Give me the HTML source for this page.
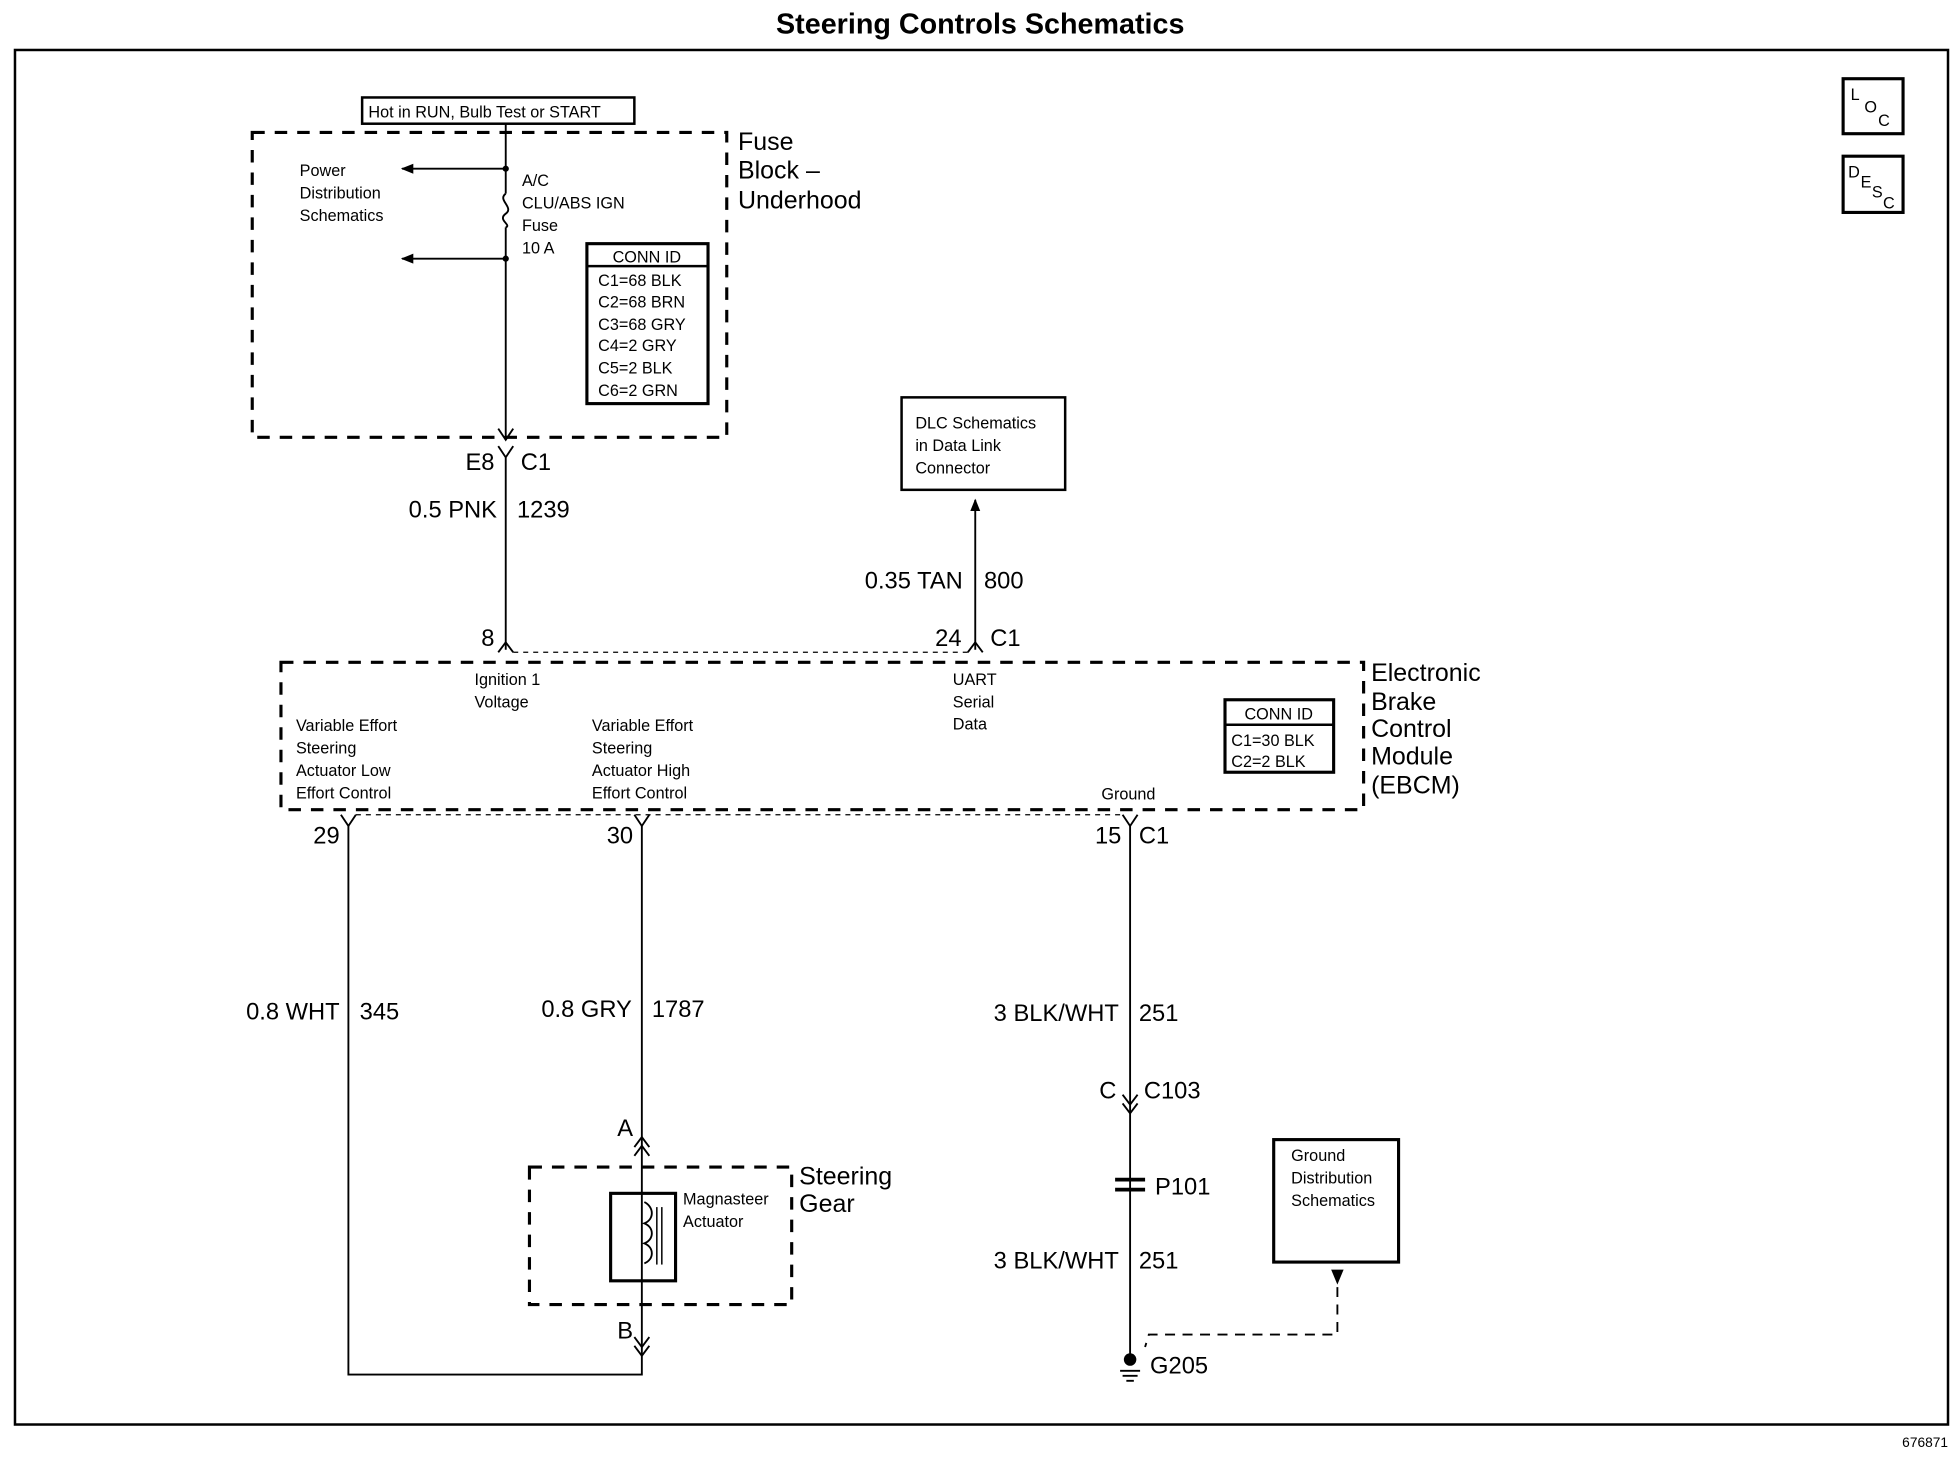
<!DOCTYPE html>
<html><head><meta charset="utf-8"><style>
html,body{margin:0;padding:0;background:#fff;}
svg{display:block;}
text{font-family:"Liberation Sans",Arial,sans-serif;fill:#000;}
.s{font-size:13px;}
.m{font-size:19px;}
.l{font-size:20px;}
</style></head><body>
<svg width="1958" height="1472" viewBox="0 0 1568 1178" preserveAspectRatio="none" xmlns="http://www.w3.org/2000/svg">
<defs>
<marker id="ah" markerWidth="10" markerHeight="10" refX="9" refY="5" orient="auto" markerUnits="userSpaceOnUse"><path d="M0,1 L10,5 L0,9 z" fill="#000"/></marker>
</defs>
<g stroke="#000" fill="none">
<rect x="12" y="40" width="1548" height="1100" stroke-width="2"/>
<rect x="1476" y="63" width="48" height="44" stroke-width="2.5"/>
<rect x="1476" y="125" width="48" height="45" stroke-width="2.5"/>
<rect x="202" y="106" width="380" height="244" stroke-width="2.5" stroke-dasharray="10,8"/>
<rect x="290" y="78" width="218" height="21" stroke-width="2"/>
<line x1="405" y1="99" x2="405" y2="155" stroke-width="1.5"/>
<path d="M405,155 C398,160 412,166 405,171 C398,176 410,180 405,182" stroke-width="1.5"/>
<line x1="405" y1="182" x2="405" y2="352" stroke-width="1.5"/>
<path d="M399,343 L405,352 L411,343" stroke-width="1.5"/>
<line x1="405" y1="135" x2="322" y2="135" stroke-width="1.5" marker-end="url(#ah)"/>
<line x1="405" y1="207" x2="322" y2="207" stroke-width="1.5" marker-end="url(#ah)"/>
<rect x="470" y="195" width="97" height="128" stroke-width="2.5"/>
<line x1="470" y1="213" x2="567" y2="213" stroke-width="2"/>
<path d="M399,357 L405,366 L411,357 M405,366 L405,520" stroke-width="1.5"/>
<rect x="722" y="318" width="131" height="74" stroke-width="2"/>
<line x1="781" y1="520" x2="781" y2="400" stroke-width="1.5" marker-end="url(#ah)"/>
<rect x="225" y="530" width="867" height="118" stroke-width="2.5" stroke-dasharray="10,8"/>
<path d="M399,522 L405,514 L411,522 M775,522 L781,514 L787,522" stroke-width="1.5"/>
<line x1="411" y1="522" x2="775" y2="522" stroke-width="1" stroke-dasharray="4,4"/>
<rect x="981" y="560" width="87" height="58" stroke-width="2.5"/>
<line x1="981" y1="580" x2="1068" y2="580" stroke-width="2"/>
<path d="M273,652 L279,661 L285,652 M508,652 L514,661 L520,652 M899,652 L905,661 L911,652" stroke-width="1.5"/>
<line x1="285" y1="652" x2="899" y2="652" stroke-width="1" stroke-dasharray="4,4"/>
<path d="M279,661 L279,1100 L514,1100 L514,1085" stroke-width="1.5"/>
<line x1="514" y1="661" x2="514" y2="1085" stroke-width="1.5"/>
<path d="M508,918 L514,910 L520,918 M508,925 L514,917 L520,925" stroke-width="1.5"/>
<path d="M508,1070 L514,1078 L520,1070 M508,1077 L514,1085 L520,1077" stroke-width="1.5"/>
<rect x="424" y="934" width="210" height="110" stroke-width="2.5" stroke-dasharray="10,8"/>
<rect x="489" y="955" width="52" height="70" stroke-width="2.5"/>
<path d="M516,962 C524,966 524,976 516,979 C524,982 524,992 516,995 C524,998 524,1008 516,1011" stroke-width="1.5"/>
<line x1="526" y1="966" x2="526" y2="1012" stroke-width="1.2"/>
<line x1="530" y1="966" x2="530" y2="1012" stroke-width="1.2"/>
<line x1="905" y1="661" x2="905" y2="1088" stroke-width="1.5"/>
<path d="M899,876 L905,884 L911,876 M899,883 L905,891 L911,883" stroke-width="1.5"/>
<path d="M893,944 L917,944 M893,952 L917,952" stroke-width="3"/>
<path d="M897,1097 L913,1097 M899,1101 L911,1101 M902,1105 L908,1105" stroke-width="1.5"/>
<rect x="1020" y="912" width="100" height="98" stroke-width="2.5"/>
<path d="M1071,1030 L1071,1068 L920,1068 L917,1078" stroke-width="1.5" stroke-dasharray="8,6"/>
</g>
<path d="M1066,1016 L1076,1016 L1071,1028 z" fill="#000"/>
<circle cx="405" cy="135" r="2.5" fill="#000"/>
<circle cx="405" cy="207" r="2.5" fill="#000"/>
<circle cx="905" cy="1088" r="5" fill="#000"/>

<text x="785" y="27" text-anchor="middle" style="font-size:23px;font-weight:bold">Steering Controls Schematics</text>
<text x="1560" y="1158" text-anchor="end" style="font-size:11px">676871</text>
<text x="1482" y="80" class="s">L</text><text x="1493" y="90" class="s">O</text><text x="1504" y="101" class="s">C</text>
<text x="1480" y="142" class="s">D</text><text x="1490" y="150" class="s">E</text><text x="1499" y="158" class="s">S</text><text x="1508" y="167" class="s">C</text>

<text x="295" y="94" class="s">Hot in RUN, Bulb Test or START</text>
<text x="591" y="120" class="l">Fuse</text>
<text x="591" y="143" class="l">Block –</text>
<text x="591" y="167" class="l">Underhood</text>
<text x="240" y="141" class="s">Power</text>
<text x="240" y="159" class="s">Distribution</text>
<text x="240" y="177" class="s">Schematics</text>
<text x="418" y="149" class="s">A/C</text>
<text x="418" y="167" class="s">CLU/ABS IGN</text>
<text x="418" y="185" class="s">Fuse</text>
<text x="418" y="203" class="s">10 A</text>
<text x="518" y="210" class="s" text-anchor="middle">CONN ID</text>
<text x="479" y="229" class="s">C1=68 BLK</text>
<text x="479" y="246" class="s">C2=68 BRN</text>
<text x="479" y="264" class="s">C3=68 GRY</text>
<text x="479" y="281" class="s">C4=2 GRY</text>
<text x="479" y="299" class="s">C5=2 BLK</text>
<text x="479" y="317" class="s">C6=2 GRN</text>

<text x="396" y="376" class="m" text-anchor="end">E8</text>
<text x="417" y="376" class="m">C1</text>
<text x="398" y="414" class="m" text-anchor="end">0.5 PNK</text>
<text x="414" y="414" class="m">1239</text>
<text x="396" y="517" class="m" text-anchor="end">8</text>

<text x="733" y="343" class="s">DLC Schematics</text>
<text x="733" y="361" class="s">in Data Link</text>
<text x="733" y="379" class="s">Connector</text>
<text x="771" y="471" class="m" text-anchor="end">0.35 TAN</text>
<text x="788" y="471" class="m">800</text>
<text x="770" y="517" class="m" text-anchor="end">24</text>
<text x="793" y="517" class="m">C1</text>

<text x="1098" y="545" class="l">Electronic</text>
<text x="1098" y="568" class="l">Brake</text>
<text x="1098" y="590" class="l">Control</text>
<text x="1098" y="612" class="l">Module</text>
<text x="1098" y="635" class="l">(EBCM)</text>
<text x="380" y="548" class="s">Ignition 1</text>
<text x="380" y="566" class="s">Voltage</text>
<text x="763" y="548" class="s">UART</text>
<text x="763" y="566" class="s">Serial</text>
<text x="763" y="584" class="s">Data</text>
<text x="237" y="585" class="s">Variable Effort</text>
<text x="237" y="603" class="s">Steering</text>
<text x="237" y="621" class="s">Actuator Low</text>
<text x="237" y="639" class="s">Effort Control</text>
<text x="474" y="585" class="s">Variable Effort</text>
<text x="474" y="603" class="s">Steering</text>
<text x="474" y="621" class="s">Actuator High</text>
<text x="474" y="639" class="s">Effort Control</text>
<text x="882" y="640" class="s">Ground</text>
<text x="1024" y="576" class="s" text-anchor="middle">CONN ID</text>
<text x="986" y="597" class="s">C1=30 BLK</text>
<text x="986" y="614" class="s">C2=2 BLK</text>

<text x="272" y="675" class="m" text-anchor="end">29</text>
<text x="507" y="675" class="m" text-anchor="end">30</text>
<text x="898" y="675" class="m" text-anchor="end">15</text>
<text x="912" y="675" class="m">C1</text>
<text x="272" y="816" class="m" text-anchor="end">0.8 WHT</text>
<text x="288" y="816" class="m">345</text>
<text x="506" y="814" class="m" text-anchor="end">0.8 GRY</text>
<text x="522" y="814" class="m">1787</text>
<text x="896" y="817" class="m" text-anchor="end">3 BLK/WHT</text>
<text x="912" y="817" class="m">251</text>
<text x="894" y="879" class="m" text-anchor="end">C</text>
<text x="916" y="879" class="m">C103</text>
<text x="507" y="909" class="m" text-anchor="end">A</text>
<text x="640" y="948" class="l">Steering</text>
<text x="640" y="970" class="l">Gear</text>
<text x="547" y="964" class="s">Magnasteer</text>
<text x="547" y="982" class="s">Actuator</text>
<text x="507" y="1071" class="m" text-anchor="end">B</text>
<text x="925" y="956" class="m">P101</text>
<text x="896" y="1015" class="m" text-anchor="end">3 BLK/WHT</text>
<text x="912" y="1015" class="m">251</text>
<text x="921" y="1099" class="m">G205</text>
<text x="1034" y="929" class="s">Ground</text>
<text x="1034" y="947" class="s">Distribution</text>
<text x="1034" y="965" class="s">Schematics</text>
</svg>
</body></html>
